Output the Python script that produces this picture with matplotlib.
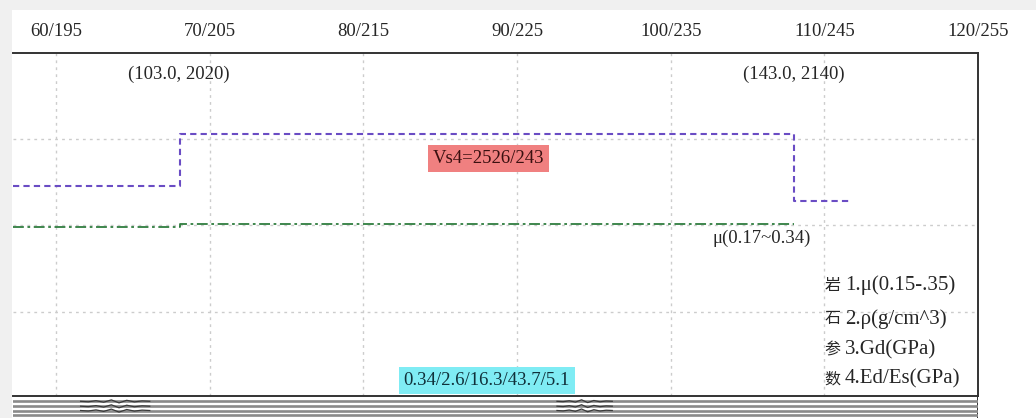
import matplotlib
matplotlib.use("Agg")
import matplotlib.pyplot as plt
from matplotlib.patches import Rectangle

# Station / elevation labels along the top of the profile
x_ticks = [60, 70, 80, 90, 100, 110, 120]
x_labels = ["60/195", "70/205", "80/215", "90/225", "100/235", "110/245", "120/255"]
y_grid = [1, 2, 3]

# Shear-wave velocity layer (profile units)
vs_x = [57.2, 68.1, 108.0, 111.8]
vs_y = [2.455, 3.055, 2.282, 2.282]

# Poisson's ratio curve
mu_x = [57.2, 68.1, 108.0]
mu_y = [1.985, 2.016, 2.016]

point_labels = ["(103.0, 2020)", "(143.0, 2140)"]
point_x = [68.0, 108.0]
point_y = [3.74, 3.74]

vs_label = "Vs4=2526/243"
mu_label = "μ(0.17~0.34)"
param_label = "0.34/2.6/16.3/43.7/5.1"

legend_chars = ["岩", "石", "参", "数"]
legend_items = ["1.μ(0.15-.35)", "2.ρ(g/cm^3)", "3.Gd(GPa)", "4.Ed/Es(GPa)"]
legend_y = [1.31, 0.92, 0.56, 0.23]

# Receiver traces below the profile
trace_levels = [5.3, 10.2, 14.5, 18.7]
arrival_a_x = [61.6, 62.1, 62.6, 63.1, 63.6, 64.1, 64.6, 65.1, 65.6, 66.1]
arrival_a_dy = [0.0, 0.5, -0.6, 0.9, -1.4, 1.6, -1.0, 0.6, -0.4, 0.0]
arrival_b_x = [92.6, 93.0, 93.4, 93.8, 94.2, 94.6, 95.0, 95.4, 95.8, 96.2]
arrival_b_dy = [0.0, 0.4, -0.5, 0.8, -1.5, 1.3, -0.8, 0.5, -0.3, 0.0]

W, H = 1036, 418
SERIF = "Liberation Serif"
CJK = "Noto Sans CJK SC"
TXT = "#262626"

fig = plt.figure(figsize=(W / 100, H / 100), dpi=100)
fig.patch.set_facecolor("#f0f0f0")
fig.add_artist(Rectangle((12 / W, 0), 1 - 12 / W, 1 - 10 / H,
                         transform=fig.transFigure, facecolor="white",
                         edgecolor="none", zorder=0))

ax = fig.add_axes([13 / W, 1 - 396 / H, 965 / W, 343 / H])
ax.set_xlim(57.2, 120.0)
ax.set_ylim(0.03, 3.99)
ax.set_facecolor("white")

ax.xaxis.tick_top()
ax.set_xticks(x_ticks, x_labels, fontfamily=SERIF, fontsize=13.5, color=TXT)
ax.tick_params(axis="x", length=0, pad=9)
ax.set_yticks(y_grid)
ax.tick_params(axis="y", length=0, labelleft=False)
ax.grid(True, color="#cccccc", linestyle=(0, (2, 3)), linewidth=1.0)

ax.spines["left"].set_visible(False)
for side in ("top", "bottom", "right"):
    ax.spines[side].set_color("#333333")
    ax.spines[side].set_linewidth(1.4)

ax.plot(vs_x, vs_y, drawstyle="steps-post", color="#6a4cc4",
        linestyle=(0, (3, 2)), linewidth=1.5, zorder=3)
ax.plot(mu_x, mu_y, drawstyle="steps-post", color="#2f7d3f",
        linestyle=(0, (6, 2, 1.5, 2)), linewidth=1.3, zorder=3)

for lbl, px, py in zip(point_labels, point_x, point_y):
    ax.text(px, py, lbl, ha="center", va="center", fontfamily=SERIF,
            fontsize=13.5, color=TXT)

ax.text(88.17, 2.77, vs_label, ha="center", va="center", fontfamily=SERIF,
        fontsize=13.5, color="#3a1010",
        bbox=dict(boxstyle="square,pad=0.25", facecolor="#f08080", edgecolor="none"))
ax.text(105.93, 1.85, mu_label, ha="center", va="center", fontfamily=SERIF,
        fontsize=13.5, color=TXT)
ax.text(88.04, 0.21, param_label, ha="center", va="center", fontfamily=SERIF,
        fontsize=13.5, color="#10303a",
        bbox=dict(boxstyle="square,pad=0.25", facecolor="#7fecf4", edgecolor="none"))

for ch, item, ly in zip(legend_chars, legend_items, legend_y):
    ax.text(110.0, ly, ch, ha="left", va="center", fontfamily=CJK,
            fontsize=11.5, color=TXT)
    ax.text(111.33, ly, item, ha="left", va="center", fontfamily=SERIF,
            fontsize=15, color=TXT)

# Trace panel
tx = fig.add_axes([13 / W, 0, 965 / W, 22 / H])
tx.set_xlim(57.2, 120.0)
tx.set_ylim(22, 0)
tx.axis("off")
tx.axvline(120.0, color="#333333", linewidth=1.4)
for lvl in trace_levels:
    tx.axhline(lvl, color="#8a8a8a", linewidth=1.9)
for i, lvl in enumerate(trace_levels[:3]):
    tx.plot(arrival_a_x, [lvl + d for d in arrival_a_dy], color="#3a3a3a", linewidth=0.9)
    tx.plot(arrival_b_x, [lvl + d for d in arrival_b_dy], color="#3a3a3a", linewidth=0.9)

fig.savefig("out.png", dpi=100)
